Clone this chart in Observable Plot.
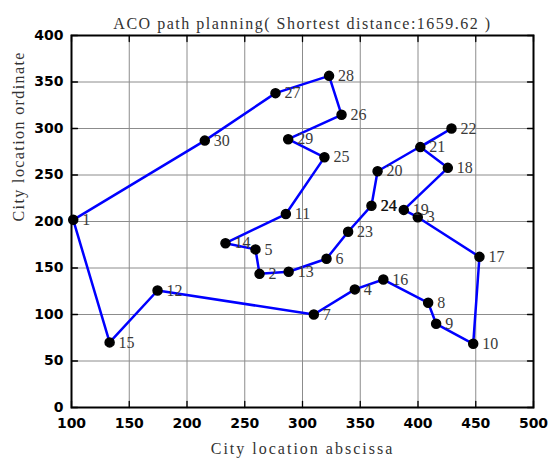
<!DOCTYPE html>
<html>
<head>
<meta charset="utf-8">
<script src="https://cdn.jsdelivr.net/npm/d3@7"></script>
<script src="https://cdn.jsdelivr.net/npm/@observablehq/plot@0.6"></script>
<style>
  html, body { margin: 0; padding: 0; background: #fff; }
</style>
</head>
<body>
<div id="chart"></div>
<script>
// City ids and coordinates
const cityIds = [1,2,3,4,5,6,7,8,9,10,11,12,13,14,15,16,17,18,19,20,21,22,23,24,25,26,27,28,29,30];
const cityX = [101.5,262.8,399.8,345.3,259.3,320.8,309.8,408.8,415.7,447.8,285.6,174.5,288,233.3,133,370,453.2,425.8,387.7,365,402,429,339.5,359.7,319,333.8,276.6,323,287.6,215.4];
const cityY = [201.8,143.7,204.6,127,170,160,100,112.6,90,68.5,208,125.8,146,176.7,70,137.6,162,257.7,212.5,254,280,300,189,217,269,314.7,338,356.6,288.5,287];
// Visiting order of the shortest route
const route = [1,30,27,28,26,29,25,11,14,5,2,13,6,23,24,20,22,21,18,19,3,17,10,9,8,16,4,7,12,15,1];
const xTicks = [100,150,200,250,300,350,400,450,500];
const yTicks = [0,50,100,150,200,250,300,350,400];
const titleText = "ACO path planning( Shortest distance:1659.62 )";
const xLabel = "City location abscissa";
const yLabel = "City location ordinate";

const cities = cityIds.map((id, i) => ({id, x: cityX[i], y: cityY[i]}));
const path = route.map(id => cities[id - 1]);

const tickShape = {draw(context, l) { context.moveTo(0, 0); context.lineTo(0, -l); }};
const serif = "'Liberation Serif', 'DejaVu Serif', serif";

const chart = Plot.plot({
  width: 550,
  height: 464,
  marginLeft: 71,
  marginRight: 17,
  marginTop: 35,
  marginBottom: 57,
  style: {background: "#fff", fontFamily: "'DejaVu Sans', sans-serif"},
  x: {domain: [100, 500]},
  y: {domain: [0, 400]},
  marks: [
    Plot.gridX(xTicks, {stroke: "#8c8c8c", strokeOpacity: 1, strokeWidth: 1}),
    Plot.gridY(yTicks, {stroke: "#8c8c8c", strokeOpacity: 1, strokeWidth: 1}),
    // inward ticks on all four sides
    Plot.vector(xTicks, {x: d => d, frameAnchor: "bottom", length: 6, anchor: "start", shape: tickShape, stroke: "black", strokeWidth: 1.3}),
    Plot.vector(xTicks, {x: d => d, frameAnchor: "top", length: 6, anchor: "start", rotate: 180, shape: tickShape, stroke: "black", strokeWidth: 1.3}),
    Plot.vector(yTicks, {y: d => d, frameAnchor: "left", length: 6, anchor: "start", rotate: 90, shape: tickShape, stroke: "black", strokeWidth: 1.3}),
    Plot.vector(yTicks, {y: d => d, frameAnchor: "right", length: 6, anchor: "start", rotate: -90, shape: tickShape, stroke: "black", strokeWidth: 1.3}),
    Plot.frame({stroke: "black", strokeWidth: 2}),
    Plot.axisX(xTicks, {anchor: "bottom", tickSize: 0, tickPadding: 11, fontSize: 14, fontWeight: "bold", fill: "black", label: null}),
    Plot.axisY(yTicks, {anchor: "left", tickSize: 0, tickPadding: 8, fontSize: 14, fontWeight: "bold", fill: "black", label: null}),
    Plot.line(path, {x: "x", y: "y", stroke: "#0000ff", strokeWidth: 2.5}),
    Plot.dot(cities, {x: "x", y: "y", r: 4.5, fill: "black", stroke: "black"}),
    Plot.text(cities, {x: "x", y: "y", text: d => String(d.id), dx: 9, textAnchor: "start", fontSize: 16, fill: "#3a3a3a", fontFamily: serif}),
    // label 24 is drawn darker in the reference (overprinted)
    Plot.text(cities.filter(d => d.id === 24), {x: "x", y: "y", text: d => String(d.id), dx: 9.6, textAnchor: "start", fontSize: 16, fill: "#111", fontFamily: serif}),
    Plot.text([titleText], {frameAnchor: "top", dy: -18, fontSize: 16, fill: "#333", fontFamily: serif, className: "ttl"}),
    Plot.text([xLabel], {frameAnchor: "bottom", dy: 46, fontSize: 16, fill: "#333", fontFamily: serif}),
    Plot.text([yLabel], {frameAnchor: "left", dx: -53, rotate: -90, fontSize: 16, fill: "#333", fontFamily: serif})
  ]
});
// widen letter spacing of title and axis titles to match the reference
d3.select(chart).selectAll("text").each(function() {
  const t = this.textContent;
  if (t === titleText) this.setAttribute("letter-spacing", "1.5");
  else if (t === xLabel) this.setAttribute("letter-spacing", "2");
  else if (t === yLabel) this.setAttribute("letter-spacing", "1.4");
});
document.getElementById("chart").appendChild(chart);
</script>
</body>
</html>
